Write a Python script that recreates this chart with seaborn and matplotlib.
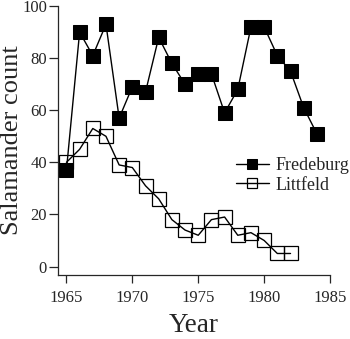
import matplotlib
matplotlib.use("Agg")
import matplotlib.pyplot as plt
import seaborn as sns
import pandas as pd

# Annual salamander counts at two sites
fred_years = [1965, 1966, 1967, 1968, 1969, 1970, 1971, 1972, 1973, 1974,
              1975, 1976, 1977, 1978, 1979, 1980, 1981, 1982, 1983, 1984]
fred_counts = [37, 90, 81, 93, 57, 69, 67, 88, 78, 70,
               74, 74, 59, 68, 92, 92, 81, 75, 61, 51]

litt_years = [1965, 1966, 1967, 1968, 1969, 1970, 1971, 1972, 1973, 1974,
              1975, 1976, 1977, 1978, 1979, 1980, 1981, 1982]
litt_counts = [40, 45, 53, 50, 39, 38, 31, 26, 18, 14,
               12, 18, 19, 12, 13, 10, 5, 5]

x_ticks = [1965, 1970, 1975, 1980, 1985]
y_ticks = [0, 20, 40, 60, 80, 100]

fred = pd.DataFrame({"Year": fred_years, "Count": fred_counts})
litt = pd.DataFrame({"Year": litt_years, "Count": litt_counts})

sns.set_style("ticks")
plt.rcParams["font.family"] = ["Liberation Serif", "DejaVu Serif"]
plt.rcParams["xtick.major.size"] = 5.5
plt.rcParams["ytick.major.size"] = 6.5
plt.rcParams["xtick.major.width"] = 0.9
plt.rcParams["ytick.major.width"] = 0.9

fig = plt.figure(figsize=(3.5, 3.39), dpi=100)
ax = fig.add_axes([0.1657, 0.1888, 0.943 - 0.1657, 0.982 - 0.1888])

sns.lineplot(data=fred, x="Year", y="Count", ax=ax, color="black",
             marker="s", markersize=9.5, markerfacecolor="black",
             markeredgecolor="black", linewidth=1.0, label="Fredeburg")
sns.lineplot(data=litt, x="Year", y="Count", ax=ax, color="black",
             marker="s", markersize=10.5, markerfacecolor="none",
             markeredgecolor="black", markeredgewidth=0.9,
             linewidth=1.0, label="Littfeld")

ax.set_xlim(1964.36, 1985)
ax.set_ylim(-3.26, 100)
ax.set_xticks(x_ticks)
ax.set_yticks(y_ticks)
ax.tick_params(axis="x", labelsize=12, pad=5)
ax.tick_params(axis="y", labelsize=12, pad=1.5)
ax.set_xlabel("Year", fontsize=19.5)
ax.set_ylabel("Salamander count", fontsize=19)
ax.xaxis.set_label_coords(0.5, -0.143)
ax.yaxis.set_label_coords(-0.13, 0.5)
for s in ax.spines.values():
    s.set_linewidth(0.9)
sns.despine(ax=ax)

ax.legend(loc="center left", bbox_to_anchor=(0.655, 0.37), frameon=False,
          fontsize=13, markerscale=0.7, handlelength=1.8,
          handletextpad=0.4, labelspacing=0.12, borderaxespad=0,
          borderpad=0)

fig.savefig("out.png", dpi=100)
